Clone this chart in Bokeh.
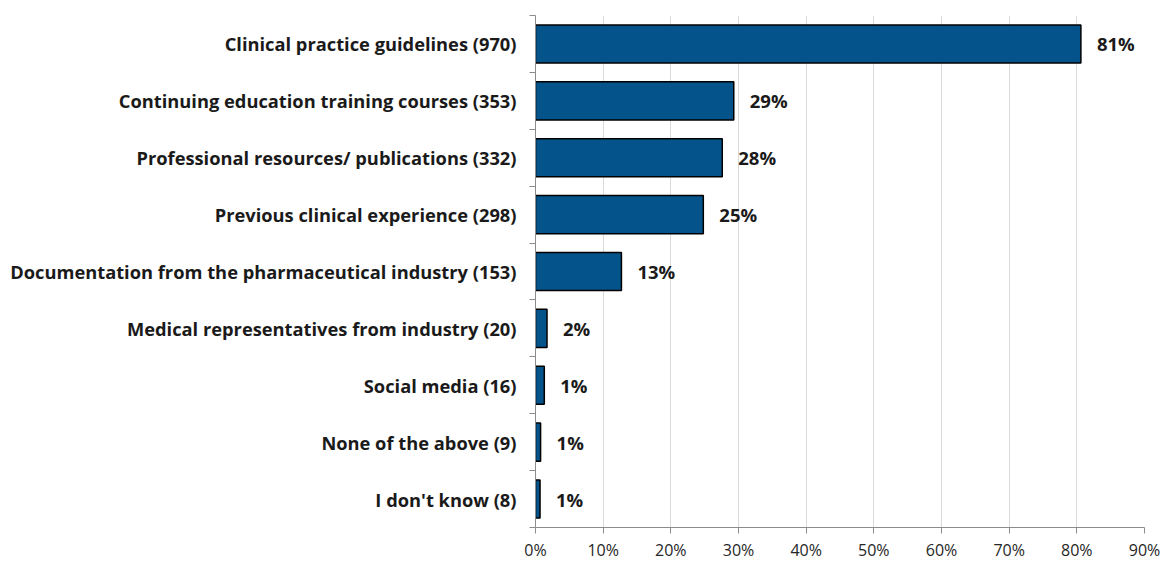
from bokeh.plotting import figure
from bokeh.models import Range1d, FixedTicker, NumeralTickFormatter, ColumnDataSource
from bokeh.core.properties import value
from bokeh.embed import file_html
from bokeh.resources import INLINE

categories = [
    "Clinical practice guidelines (970)",
    "Continuing education training courses (353)",
    "Professional resources/ publications (332)",
    "Previous clinical experience (298)",
    "Documentation from the pharmaceutical industry (153)",
    "Medical representatives from industry (20)",
    "Social media (16)",
    "None of the above (9)",
    "I don't know (8)",
]
shares = [0.806, 0.293, 0.276, 0.248, 0.127, 0.017, 0.013, 0.0075, 0.0067]
share_labels = ["81%", "29%", "28%", "25%", "13%", "2%", "1%", "1%", "1%"]
x_ticks = [0, 0.1, 0.2, 0.3, 0.4, 0.5, 0.6, 0.7, 0.8, 0.9]

FONT = "Open Sans"
n = len(categories)
ypos = [i + 0.5 for i in range(n)]

src = ColumnDataSource(dict(y=ypos, x=shares, lab=share_labels))

p = figure(width=1164, height=563, output_backend="svg", toolbar_location=None,
           x_range=Range1d(0, 0.9), y_range=Range1d(n, 0),
           min_border_left=535, min_border_right=20, min_border_top=15, min_border_bottom=35)
p.outline_line_color = None
p.background_fill_color = "white"

p.hbar(y="y", right="x", left=0, height=0.67, source=src,
       fill_color="#04538A", line_color="black", line_width=1.5)

p.text(x="x", y="y", text="lab", source=src, x_offset=16,
       text_baseline="middle", text_align="left",
       text_font=value(FONT), text_font_style="bold", text_font_size="18.5px",
       text_color="#1a1a1a")

# x axis
p.xaxis.ticker = FixedTicker(ticks=x_ticks)
p.xaxis.formatter = NumeralTickFormatter(format="0%")
p.xaxis.major_label_text_font = FONT
p.xaxis.major_label_text_font_size = "16px"
p.xaxis.major_label_text_color = "#262626"
p.xaxis.axis_line_color = "#8c8c8c"
p.xaxis.major_tick_line_color = "#8c8c8c"
p.xaxis.major_tick_out = 6
p.xaxis.major_tick_in = 0
p.xaxis.minor_tick_line_color = None
p.xaxis.major_label_standoff = 5

p.xgrid.ticker = FixedTicker(ticks=x_ticks)
p.xgrid.grid_line_color = "#d9d9d9"
p.ygrid.grid_line_color = None

# y axis: category labels at centers, ticks at boundaries
p.yaxis.ticker = FixedTicker(ticks=ypos, minor_ticks=list(range(n + 1)))
p.yaxis.major_label_overrides = {y: c for y, c in zip(ypos, categories)}
p.yaxis.major_label_text_font = FONT
p.yaxis.major_label_text_font_style = "bold"
p.yaxis.major_label_text_font_size = "18.3px"
p.yaxis.major_label_text_color = "#1a1a1a"
p.yaxis.major_tick_line_color = None
p.yaxis.minor_tick_line_color = "#8c8c8c"
p.yaxis.minor_tick_out = 6
p.yaxis.minor_tick_in = 0
p.yaxis.axis_line_color = "#8c8c8c"
p.yaxis.major_label_standoff = 13

open("out.html", "w").write(file_html(p, INLINE))
